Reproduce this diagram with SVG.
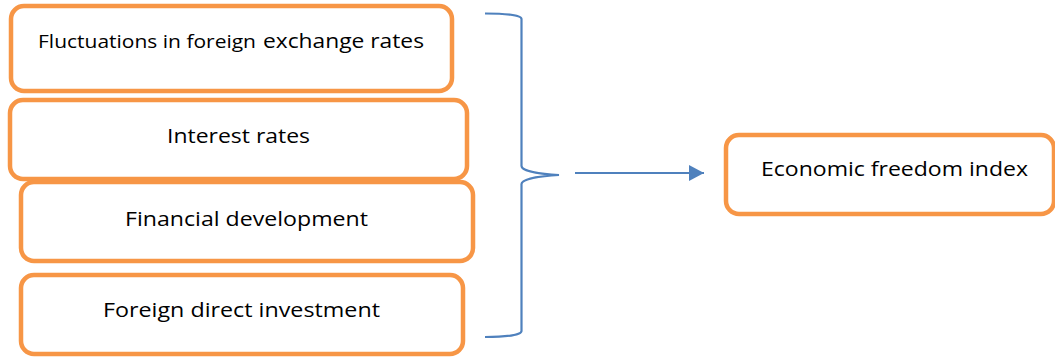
<svg xmlns="http://www.w3.org/2000/svg" width="1055" height="358" viewBox="0 0 1055 358">
<style>
.box{fill:#ffffff;stroke:#F79646;stroke-width:4.5}
.lbl{font-family:"Open Sans","Liberation Sans",sans-serif;fill:#000000}
.conn{fill:none;stroke:#4F81BD;stroke-width:2.2}
</style>
<defs>
<marker id="ah" markerUnits="userSpaceOnUse" markerWidth="16" markerHeight="18" refX="15" refY="8" orient="auto">
<path d="M0,0 L15,8 L0,16 Z" fill="#4F81BD"/>
</marker>
</defs>
<rect width="1055" height="358" fill="#ffffff"/>
<g id="n1">
<rect class="box" x="11" y="6" width="441" height="85" rx="13"/>
<text class="lbl" x="38" y="48" font-size="18.5" textLength="218" lengthAdjust="spacingAndGlyphs">Fluctuations in foreign</text>
<text class="lbl" x="263" y="48" font-size="20.5" textLength="161" lengthAdjust="spacingAndGlyphs">exchange rates</text>
</g>
<g id="n2">
<rect class="box" x="10" y="100" width="457" height="79" rx="13"/>
<text class="lbl" x="167" y="143" font-size="20.5" textLength="143" lengthAdjust="spacingAndGlyphs">Interest rates</text>
</g>
<g id="n3">
<rect class="box" x="21" y="182" width="452" height="79" rx="13"/>
<text class="lbl" x="125" y="226" font-size="20.5" textLength="243" lengthAdjust="spacingAndGlyphs">Financial development</text>
</g>
<g id="n4">
<rect class="box" x="21" y="275" width="442" height="79" rx="13"/>
<text class="lbl" x="103" y="317" font-size="20.5" textLength="277" lengthAdjust="spacingAndGlyphs">Foreign direct investment</text>
</g>
<g id="n5">
<rect class="box" x="726" y="135" width="328" height="79" rx="13"/>
<text class="lbl" x="761" y="176" font-size="20.5" textLength="267" lengthAdjust="spacingAndGlyphs">Economic freedom index</text>
</g>
<g id="connectors">
<path class="conn" d="M485,13.5 C505,13.5 521.5,15 521.5,19 L521.5,166 C521.5,171 540,174 559,175 C540,176 521.5,179 521.5,184 L521.5,331 C521.5,335 505,337 485,337"/>
<line class="conn" x1="575" y1="173" x2="704" y2="173" marker-end="url(#ah)"/>
</g>
</svg>
